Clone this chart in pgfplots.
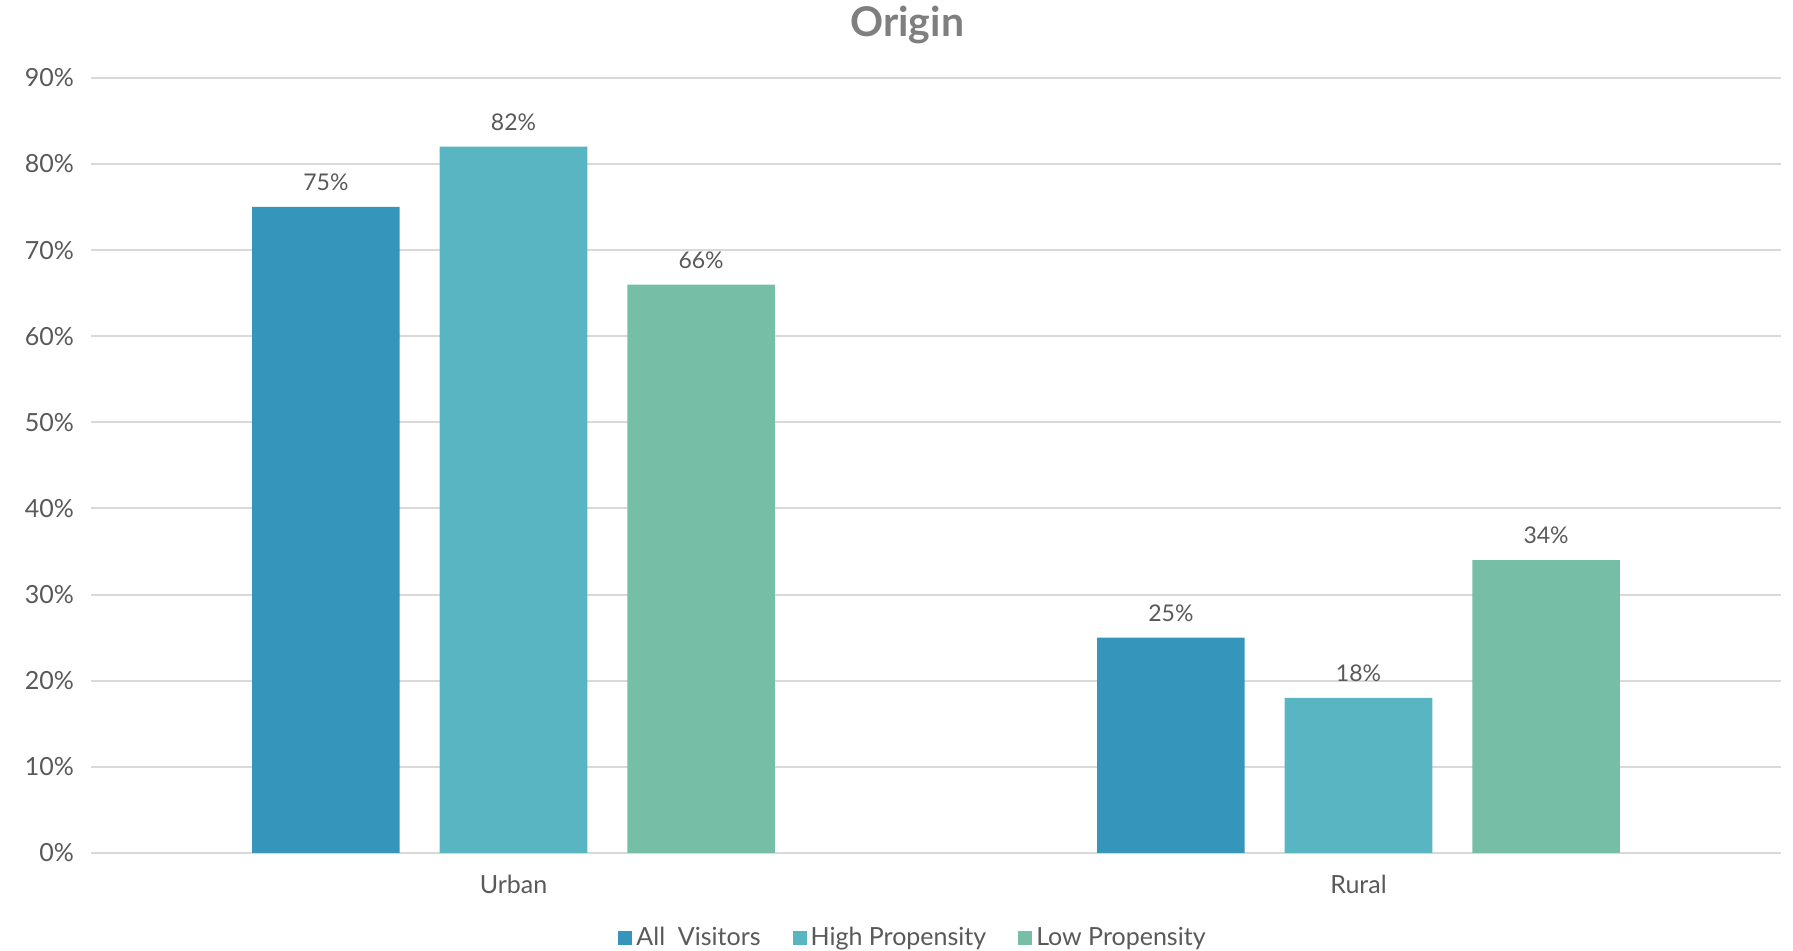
\documentclass[border=0pt]{standalone}
\usepackage{pgfplots}
\pgfplotsset{compat=1.18}
\usepackage{fontspec}
\setmainfont{Lato}
\definecolor{allc}{HTML}{3595BA}
\definecolor{highc}{HTML}{58B5C1}
\definecolor{lowc}{HTML}{77BEA6}
\definecolor{txt}{HTML}{595959}
\definecolor{ttl}{HTML}{7F7F7F}
\definecolor{grd}{HTML}{D9D9D9}
\begin{document}
\begin{tikzpicture}
\path[use as bounding box] (-45.5pt,-49pt) rectangle (851pt,426.5pt);
\begin{axis}[
  at={(0,0)}, anchor=south west,
  scale only axis, width=845pt, height=387.6pt,
  ybar=20pt, bar width=73.8pt,
  xmin=-0.5, xmax=1.5, ymin=0, ymax=90,
  xtick={0,1}, xticklabels={Urban,Rural},
  ytick={0,10,...,90},
  yticklabel={\pgfmathprintnumber[assume math mode=true]{\tick}\%},
  axis line style={draw=none},
  major tick length=0pt,
  ymajorgrids, grid style={grd, line width=1pt},
  tick label style={font=\fontsize{12.5}{12.5}\selectfont, text=txt},
  yticklabel style={xshift=-5pt},
  xticklabel style={yshift=-7.5pt},
  nodes near coords={\pgfmathprintnumber[assume math mode=true]{\pgfplotspointmeta}\%},
  every node near coord/.append style={font=\fontsize{11.5}{11.5}\selectfont, text=txt, yshift=4.5pt},
  every axis title shift=0pt,
  title={\textbf{Origin}},
  title style={at={(0.483,1)}, anchor=base, yshift=20.6pt, font=\fontsize{20.5}{20.5}\selectfont, text=ttl},
  legend columns=3,
  legend style={draw=none, at={(0.487,-0.1097)}, anchor=center, font=\fontsize{12.5}{12.5}\selectfont, text=txt,
    /tikz/every even column/.append style={column sep=14pt}},
  legend image code/.code={\fill[#1] (0pt,-3.5pt) rectangle (7pt,3.5pt);},
]
\addplot[fill=allc, draw=none] coordinates {(0,75) (1,25)};
\addplot[fill=highc, draw=none] coordinates {(0,82) (1,18)};
\addplot[fill=lowc, draw=none] coordinates {(0,66) (1,34)};
\legend{All\ \ Visitors, High Propensity, Low Propensity}
\end{axis}
\end{tikzpicture}
\end{document}
